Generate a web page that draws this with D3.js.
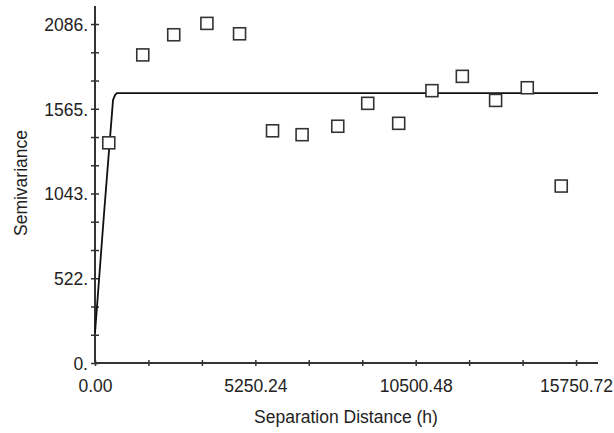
<!DOCTYPE html>
<html>
<head>
<meta charset="utf-8">
<script src="https://cdn.jsdelivr.net/npm/d3@7"></script>
<style>
  body { margin: 0; background: #fff; }
  svg { display: block; font-family: "Liberation Sans", Arial, sans-serif; }
  .axis path, .axis line { stroke: #333; stroke-width: 2; fill: none; }
  .axis text { fill: #222; font-size: 17.5px; }
  .label { fill: #222; font-size: 17.5px; }
</style>
</head>
<body>
<div id="svgDiv"></div>
<script>
var width = 614, height = 433;

// lag distances (h) and semivariance
var lagH = [451, 1564, 2578, 3664, 4733, 5813, 6781, 7949, 8930, 9944, 11033, 12028, 13117, 14154, 15266];
var semivar = [1355, 1896, 2020, 2090, 2026, 1429, 1405, 1457, 1598, 1475, 1676, 1764, 1616, 1694, 1089];

// fitted model line
var modelH = [0, 300, 590, 660, 720, 16470];
var modelV = [185, 930, 1618, 1650, 1661, 1661];

var xTickValues = [0, 1750.08, 3500.16, 5250.24, 7000.32, 8750.40, 10500.48, 12250.56, 14000.64, 15750.72];
var xTickLabels = ["0.00", "", "", "5250.24", "", "", "10500.48", "", "", "15750.72"];
var yTickValues = [0, 173.83, 347.67, 521.5, 695.33, 869.17, 1043, 1216.83, 1390.67, 1564.5, 1738.33, 1912.17, 2086];
var yTickLabels = ["0.", "", "", "522.", "", "", "1043.", "", "", "1565.", "", "", "2086."];

var xScale = d3.scaleLinear()
    .domain([0, 16470])
    .range([95, 598]);

var yScale = d3.scaleLinear()
    .domain([0, 2197])
    .range([363, 6]);

var svg = d3.select("#svgDiv").append("svg")
    .attr("width", width)
    .attr("height", height);

var xAxis = d3.axisBottom(xScale)
    .tickValues(xTickValues)
    .tickFormat(function(d, i) { return xTickLabels[i]; })
    .tickSizeOuter(0)
    .tickSizeInner(3)
    .tickPadding(14);

var yAxis = d3.axisLeft(yScale)
    .tickValues(yTickValues)
    .tickFormat(function(d, i) { return yTickLabels[i]; })
    .tickSizeOuter(0)
    .tickSizeInner(4)
    .tickPadding(4);

var gx = svg.append("g")
    .attr("class", "x axis")
    .attr("transform", "translate(0," + yScale(0) + ")")
    .call(xAxis);
gx.selectAll(".tick line").attr("y1", -3).attr("y2", 3).style("stroke-width", 1.5);
gx.select(".domain").attr("d", "M" + (xScale(0) - 1) + ",0H" + xScale(16470));

var gy = svg.append("g")
    .attr("class", "y axis")
    .attr("transform", "translate(" + xScale(0) + ",0)")
    .call(yAxis);
gy.selectAll(".tick line").attr("x1", -4).attr("x2", 4).style("stroke-width", 1.5);
gy.selectAll(".tick text").attr("x", -7).attr("dy", "0.36em");
gy.select(".domain").attr("d", "M0," + yScale(0) + "V" + yScale(2197));

// model line
var line = d3.line()
    .x(function(d) { return xScale(d[0]); })
    .y(function(d) { return yScale(d[1]); });

svg.append("path")
    .datum(d3.zip(modelH, modelV))
    .attr("d", line)
    .style("fill", "none")
    .style("stroke", "#111")
    .style("stroke-width", 1.8);

// empirical points as open squares
var s = 12;
svg.selectAll("rect.pt")
    .data(d3.zip(lagH, semivar))
    .enter()
    .append("rect")
    .attr("class", "pt")
    .attr("x", function(d) { return xScale(d[0]) - s / 2; })
    .attr("y", function(d) { return yScale(d[1]) - s / 2; })
    .attr("width", s)
    .attr("height", s)
    .style("fill", "#fff")
    .style("stroke", "#333")
    .style("stroke-width", 1.6);

svg.append("text")
    .attr("class", "label")
    .attr("x", 346)
    .attr("y", 423)
    .attr("text-anchor", "middle")
    .text("Separation Distance (h)");

svg.append("text")
    .attr("class", "label")
    .attr("transform", "translate(27,183) rotate(-90)")
    .attr("text-anchor", "middle")
    .text("Semivariance");
</script>
</body>
</html>
